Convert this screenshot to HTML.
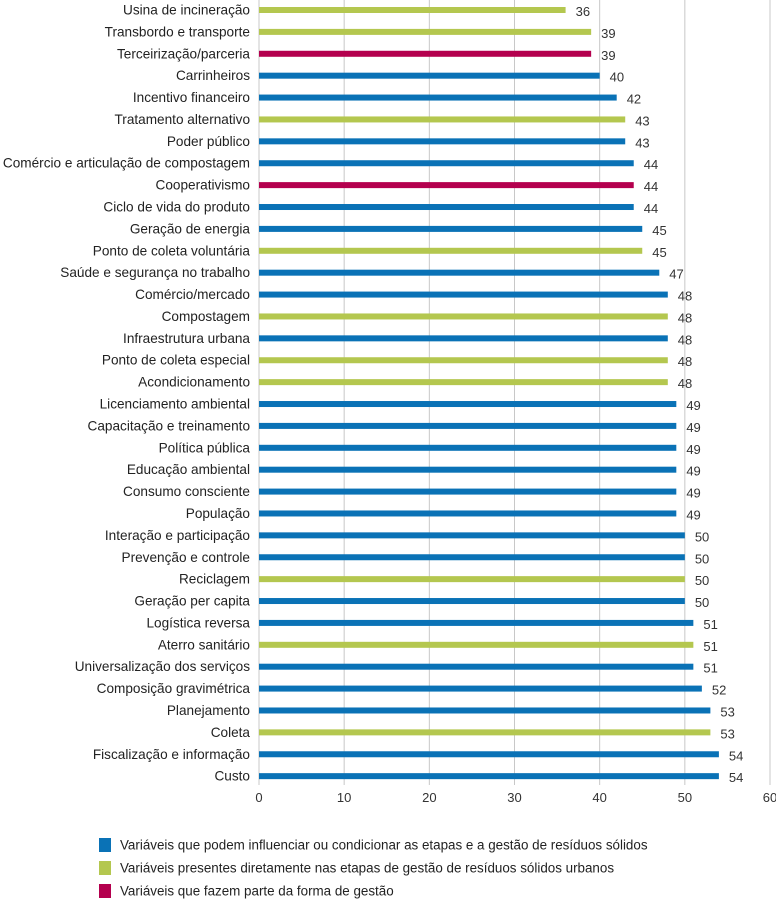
<!DOCTYPE html>
<html><head><meta charset="utf-8"><style>
body{margin:0;background:#fff;}
svg{display:block;font-family:"Liberation Sans",sans-serif;}
</style></head><body>
<svg id="chart" width="776" height="900"></svg>
<script>
const categories=["Usina de incineração","Transbordo e transporte","Terceirização/parceria","Carrinheiros","Incentivo financeiro","Tratamento alternativo","Poder público","Comércio e articulação de compostagem","Cooperativismo","Ciclo de vida do produto","Geração de energia","Ponto de coleta voluntária","Saúde e segurança no trabalho","Comércio/mercado","Compostagem","Infraestrutura urbana","Ponto de coleta especial","Acondicionamento","Licenciamento ambiental","Capacitação e treinamento","Política pública","Educação ambiental","Consumo consciente","População","Interação e participação","Prevenção e controle","Reciclagem","Geração per capita","Logística reversa","Aterro sanitário","Universalização dos serviços","Composição gravimétrica","Planejamento","Coleta","Fiscalização e informação","Custo"];
const values=[36,39,39,40,42,43,43,44,44,44,45,45,47,48,48,48,48,48,49,49,49,49,49,49,50,50,50,50,51,51,51,52,53,53,54,54];
const groups=["g","g","m","b","b","g","b","b","m","b","b","g","b","b","g","b","g","g","b","b","b","b","b","b","b","b","g","b","b","g","b","b","b","g","b","b"];
const ticks=[0,10,20,30,40,50,60];
const legendLabels=["Variáveis que podem influenciar ou condicionar as etapas e a gestão de resíduos sólidos","Variáveis presentes diretamente nas etapas de gestão de resíduos sólidos urbanos","Variáveis que fazem parte da forma de gestão"];
const legendKeys=["b","g","m"];
const colors={b:"#0a72b6",g:"#b4c74f",m:"#b4004e"};
const NS="http://www.w3.org/2000/svg";
const svg=document.getElementById("chart");
const x0=259,x1=770,top0=10,step=21.89;
const xs=v=>x0+(v-ticks[0])/(ticks[ticks.length-1]-ticks[0])*(x1-x0);
const ys=i=>top0+i*step;
function mk(t,a){const e=document.createElementNS(NS,t);for(const k in a)e.setAttribute(k,a[k]);svg.appendChild(e);return e;}
ticks.forEach(t=>{
 const g=mk("line",{x1:xs(t),x2:xs(t),y1:0,y2:785,stroke:"#c8c8c8","stroke-width":1});
 
 
 const l=mk("text",{x:xs(t),y:802,"text-anchor":"middle","font-size":13,fill:"#333"});
 l.textContent=t;
 
 
});
categories.forEach((c,i)=>{
 const y=ys(i);
 const lab=mk("text",{x:250,y:y+4.5,"text-anchor":"end","font-size":13.6,fill:"#222"});
 lab.textContent=c;
 
 
 const b=mk("rect",{x:x0,y:y-3,width:xs(values[i])-x0,height:6,fill:colors[groups[i]]});
 
 
 const v=mk("text",{x:xs(values[i])+10,y:y+6,"font-size":13,fill:"#333"});
 v.textContent=values[i];
 
 
});
legendLabels.forEach((t,i)=>{
 const y=845+i*23;
 const r=mk("rect",{x:99,y:y-7,width:12,height:14,fill:colors[legendKeys[i]]});
 
 
 const tx=mk("text",{x:120,y:y+4.5,"font-size":13.4,fill:"#222"});
 tx.textContent=t;
 
 
});
</script>
</body></html>
